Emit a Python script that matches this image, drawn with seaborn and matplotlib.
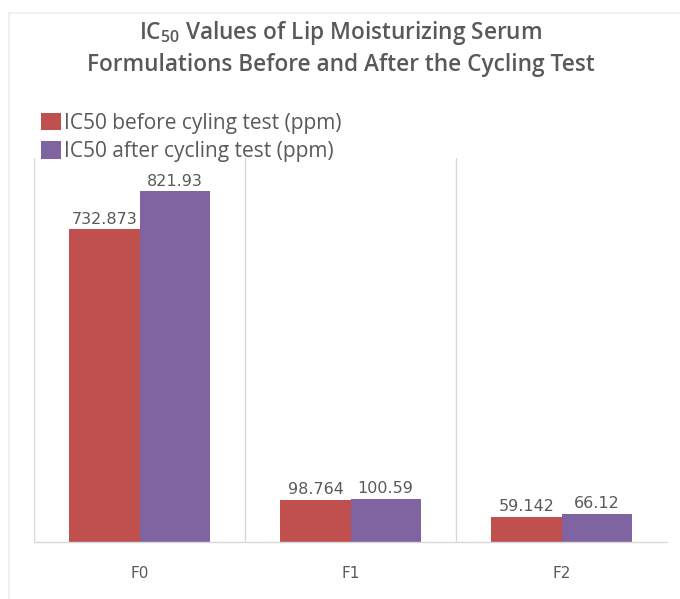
import matplotlib
matplotlib.use("Agg")
import matplotlib.pyplot as plt
import seaborn as sns
import pandas as pd
from matplotlib.patches import Patch
from matplotlib.lines import Line2D

categories = ["F0", "F1", "F2"]
series_names = ["IC50 before cyling test (ppm)", "IC50 after cycling test (ppm)"]
before_vals = [732.873, 98.764, 59.142]
after_vals = [821.93, 100.59, 66.12]
before_labels = ["732.873", "98.764", "59.142"]
after_labels = ["821.93", "100.59", "66.12"]
colors = ["#C0504D", "#8064A2"]

sns.set_theme(style="white")
plt.rcParams["font.family"] = ["Open Sans", "DejaVu Sans"]
plt.rcParams["mathtext.fontset"] = "custom"
plt.rcParams["mathtext.rm"] = "Open Sans:semibold"
plt.rcParams["mathtext.it"] = "Open Sans:italic"
plt.rcParams["mathtext.bf"] = "Open Sans:bold"

df = pd.DataFrame({
    "cat": categories * 2,
    "series": [series_names[0]] * 3 + [series_names[1]] * 3,
    "val": before_vals + after_vals,
})

fig = plt.figure(figsize=(6.8, 5.99), dpi=100)
ax = fig.add_axes([34/680, 57/599, (667-34)/680, (542-158)/599])

sns.barplot(data=df, x="cat", y="val", hue="series", palette=colors,
            width=0.664, saturation=1, ax=ax, legend=False, linewidth=0)

ax.set_ylim(0, 900)
ax.set_xlim(-0.5, 2.5)
ax.set_xlabel("")
ax.set_ylabel("")
ax.set_yticks([])
for s in ["top", "right", "left"]:
    ax.spines[s].set_visible(False)
ax.spines["bottom"].set_color("#D9D9D9")
ax.spines["bottom"].set_linewidth(1.0)
for xv in [-0.5, 0.5, 1.5]:
    ax.axvline(xv, color="#D9D9D9", lw=1.0, zorder=0)

ax.tick_params(axis="x", length=0, pad=17, labelsize=11, labelcolor="#595959")
for lbl in ax.get_xticklabels():
    lbl.set_family("DejaVu Sans")

lab_sets = [before_labels, after_labels]
for cont, labs in zip(ax.containers, lab_sets):
    ax.bar_label(cont, labels=labs, padding=2, fontsize=11.5, color="#595959",
                 family="DejaVu Sans")

# chart frame (faint)
fig.add_artist(Line2D([8/680, 1], [1 - 12.5/599, 1 - 12.5/599], transform=fig.transFigure,
                      color="#EEEEEE", lw=1.2))
fig.add_artist(Line2D([8.5/680, 8.5/680], [0, 1 - 12.5/599], transform=fig.transFigure,
                      color="#EEEEEE", lw=1.2))

fig.text(341/680, 1 - 33/599, r"IC$_{\mathdefault{50}}$ Values of Lip Moisturizing Serum",
         ha="center", va="center", fontsize=16.3, color="#595959", fontweight="semibold")
fig.text(341/680, 1 - 65/599, "Formulations Before and After the Cycling Test",
         ha="center", va="center", fontsize=16.3, color="#595959", fontweight="semibold")

handles = [Patch(facecolor=c, edgecolor="none") for c in colors]
leg = fig.legend(handles, series_names, loc="upper left",
                 bbox_to_anchor=(41/680, 1 - 113/599), frameon=False,
                 fontsize=15, handlelength=0.95, handleheight=0.9,
                 handletextpad=0.15, labelspacing=0.34, borderpad=0, borderaxespad=0)
for t in leg.get_texts():
    t.set_color("#595959")

fig.savefig("out.png", dpi=100, facecolor="white")
